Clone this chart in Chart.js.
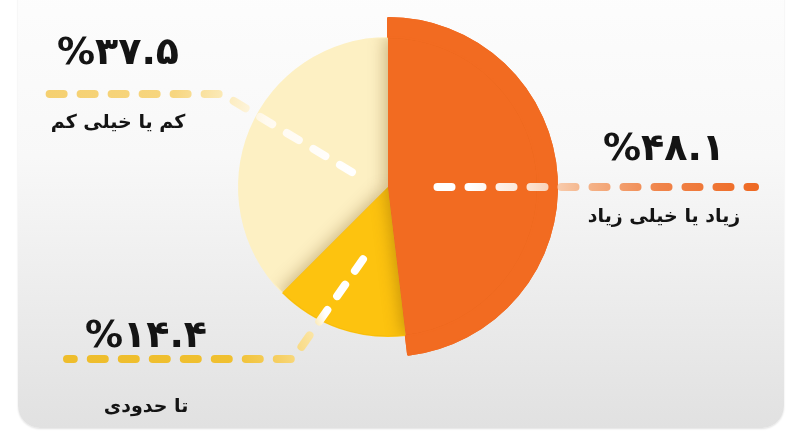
<!DOCTYPE html>
<html lang="fa">
<head>
<meta charset="UTF-8" />
<title>نظرسنجی</title>
<style>
  body {
    margin: 0;
    width: 800px;
    height: 445px;
    overflow: hidden;
    position: relative;
    background: #ffffff;
    font-family: 'DejaVu Sans', sans-serif;
  }
  .card {
    position: absolute;
    left: 18px;
    top: -24px;
    width: 766px;
    height: 452px;
    border-radius: 22px;
    background: linear-gradient(to bottom, #fdfdfd 0%, #f8f8f8 40%, #e1e1e1 100%);
    box-shadow: 0 1px 2px rgba(0,0,0,0.12);
  }
  canvas { position: absolute; left: 0; top: 0; }
</style>
</head>
<body>
<div class="card"></div>
<canvas id="pie" width="800" height="445"></canvas>

<script src="https://cdn.jsdelivr.net/npm/chart.js@4.4.0/dist/chart.umd.min.js"></script>
<script>
  // data
  const categories = ['زیاد یا خیلی زیاد', 'تا حدودی', 'کم یا خیلی کم'];
  const shares = [48.1, 14.4, 37.5];
  const sliceColors = ['#f26b21', '#fdc30f', '#fdf0c3'];

  const faDigits = '۰۱۲۳۴۵۶۷۸۹';
  const toFa = v => v.toFixed(1).replace(/\d/g, d => faDigits[d]);

  // leader line + label layout for each slice
  // t: position inside the slice angle (0..1), r: fraction of the pie radius
  const leaders = [
    { t: 0.52, r: 0.33, elbowT: 0.52, elbowR: 0.33, endX: 755, textX: 664, numY: 150, labelY: 217,
      stops: [[0, '#ffffff'], [0.1, '#ffffff'], [0.3, '#fbe0cd'], [0.45, '#f5b88f'], [0.7, '#f0844a'], [1, '#ee6a24']] },
    { t: 0.5, r: 0.51, elbowT: 0.69, elbowR: 1.31, endX: 67, textX: 146, numY: 337, labelY: 407,
      stops: [[0, '#ffffff'], [0.17, '#ffffff'], [0.22, '#fbe6a8'], [0.35, '#f6d066'], [0.5, '#f0c030'], [1, '#eebd2c']] },
    { t: 0.5, r: 0.26, elbowT: 0.55, elbowR: 1.27, endX: 43, textX: 118, numY: 54, labelY: 123,
      stops: [[0, '#ffffff'], [0.3, '#fffaf0'], [0.45, '#fbeab8'], [0.6, '#f7d680'], [1, '#f5d070']] }
  ];

  function polar(arc, t, r) {
    const a = arc.startAngle + (arc.endAngle - arc.startAngle) * t;
    return { x: arc.x + Math.cos(a) * arc.outerRadius * r, y: arc.y + Math.sin(a) * arc.outerRadius * r };
  }

  // soft shadows thrown by the yellow and orange slices onto their neighbours
  const shadowPlugin = {
    id: 'sliceShadows',
    afterDatasetsDraw(chart) {
      const arcs = chart.getDatasetMeta(1).data;
      const ctx = chart.ctx;
      [1, 0].forEach(i => {
        const arc = arcs[i];
        ctx.save();
        ctx.beginPath();
        ctx.arc(arc.x, arc.y, arc.outerRadius - 1, 0, Math.PI * 2);
        ctx.clip();
        ctx.shadowColor = 'rgba(110,70,0,0.35)';
        ctx.shadowBlur = 16;
        ctx.shadowOffsetX = -3;
        arc.draw(ctx);
        ctx.restore();
      });
      // redraw the rim over the seam
      chart.getDatasetMeta(0).data[0].draw(ctx);
    }
  };

  const leaderPlugin = {
    id: 'leaders',
    afterDraw(chart) {
      const arcs = chart.getDatasetMeta(1).data;
      const ctx = chart.ctx;
      arcs.forEach((arc, i) => {
        const L = leaders[i];
        const p0 = polar(arc, L.t, L.r);
        const p1 = polar(arc, L.elbowT, L.elbowR);
        const p2 = { x: L.endX, y: p1.y };

        const grad = ctx.createLinearGradient(p0.x, p0.y, p2.x, p2.y);
        L.stops.forEach(s => grad.addColorStop(s[0], s[1]));

        ctx.save();
        ctx.strokeStyle = grad;
        ctx.lineWidth = 8;
        ctx.lineCap = 'round';
        ctx.lineJoin = 'round';
        ctx.setLineDash([14, 17]);
        ctx.beginPath();
        ctx.moveTo(p0.x, p0.y);
        ctx.lineTo(p1.x, p1.y);
        ctx.lineTo(p2.x, p2.y);
        ctx.stroke();
        ctx.restore();

        ctx.save();
        ctx.fillStyle = '#141414';
        ctx.textAlign = 'center';
        ctx.textBaseline = 'middle';
        ctx.direction = 'ltr';
        ctx.font = 'bold 38px "DejaVu Sans", sans-serif';
        ctx.fillText('%' + toFa(shares[i]), L.textX, L.numY);
        ctx.direction = 'rtl';
        ctx.font = 'bold 19px "DejaVu Sans", sans-serif';
        ctx.fillText(categories[i], L.textX, L.labelY);
        ctx.restore();
      });
    }
  };

  new Chart(document.getElementById('pie'), {
    type: 'pie',
    data: {
      labels: categories,
      datasets: [
        {
          // outer rim: only the first slice sticks out
          data: shares,
          backgroundColor: [sliceColors[0], 'rgba(0,0,0,0)', 'rgba(0,0,0,0)'],
          borderColor: sliceColors[0],
          borderWidth: [2, 0, 0],
          weight: 19,
          radius: 169
        },
        {
          data: shares,
          backgroundColor: sliceColors,
          borderWidth: 0,
          weight: 150,
          radius: 169
        }
      ]
    },
    options: {
      responsive: false,
      animation: false,
      events: [],
      layout: { padding: { left: 0, right: 24, top: 0, bottom: 71 } },
      plugins: { legend: { display: false }, tooltip: { enabled: false } }
    },
    plugins: [shadowPlugin, leaderPlugin]
  });
</script>
</body>
</html>
